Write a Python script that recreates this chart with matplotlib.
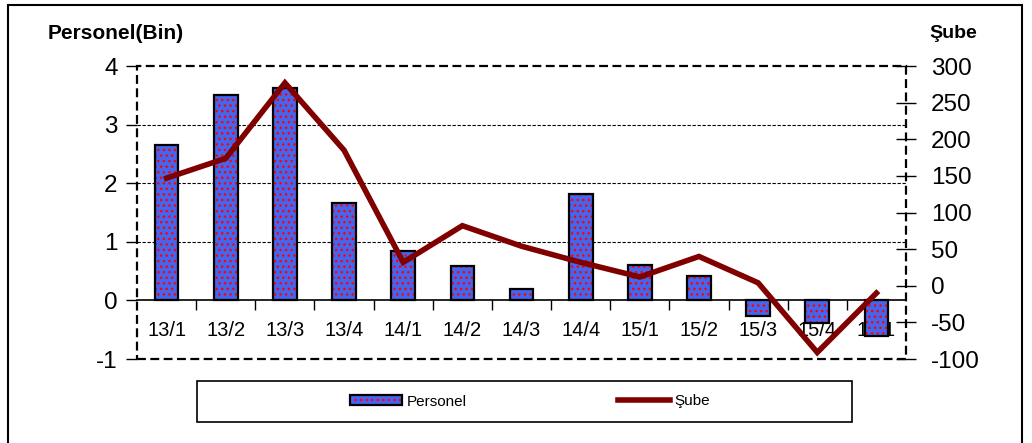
import numpy as np
import matplotlib.pyplot as plt
from matplotlib.patches import Rectangle
from matplotlib.lines import Line2D
from matplotlib.patches import Patch

plt.rcParams["font.family"] = ["Liberation Sans", "DejaVu Sans"]
plt.rcParams["axes.unicode_minus"] = False
plt.rcParams["hatch.linewidth"] = 1.0

#
# --- Data
#
categories = ["13/1", "13/2", "13/3", "13/4", "14/1", "14/2", "14/3",
              "14/4", "15/1", "15/2", "15/3", "15/4", "16/1"]
personel = [2.66, 3.50, 3.63, 1.66, 0.85, 0.58, 0.20,
            1.81, 0.60, 0.41, -0.27, -0.39, -0.60]
sube = [147, 174, 277, 185, 32, 82, 54, 32, 12, 40, 4, -91, -10]

BAR_BLUE = "#4466ee"
LINE_RED = "#800000"

fig = plt.figure(figsize=(10.32, 4.43), dpi=100)
ax = fig.add_axes([0.1328, 0.1896, 0.8779 - 0.1328, 0.851 - 0.1896])
x = np.arange(len(categories))

#
# --- Bars: blue with red dots, black outline
#
ax.bar(x, personel, width=0.4, color=BAR_BLUE, edgecolor="red", hatch="...",
       linewidth=0, zorder=2)
ax.bar(x, personel, width=0.4, fill=False, edgecolor="black", linewidth=1.6,
       zorder=3)

ax.set_xlim(-0.5, len(categories) - 0.5)
ax.set_ylim(-1, 4)
ax.set_yticks([-1, 0, 1, 2, 3, 4])
ax.tick_params(axis="y", direction="out", length=8, width=1, labelsize=17.5,
               pad=6)

# category axis sits on zero
ax.spines["bottom"].set_position(("data", 0))
ax.spines["bottom"].set_linewidth(1.2)
ax.set_xticks(x)
ax.set_xticklabels(categories)
ax.set_xticks(np.arange(0.5, len(categories) - 0.5, 1.0), minor=True)
ax.tick_params(axis="x", which="major", length=0, labelsize=14.5, pad=15)
ax.tick_params(axis="x", which="minor", direction="out", length=7, width=1)

for side in ["left", "top", "right"]:
    ax.spines[side].set_visible(False)
ax.add_patch(Rectangle((0, 0), 1, 1, transform=ax.transAxes, fill=False,
                       linestyle=(0, (4, 2)), linewidth=1.6, edgecolor="black",
                       clip_on=False, zorder=1))

for yv in [1, 2, 3]:
    ax.axhline(yv, color="black", linewidth=0.8, linestyle=(0, (3, 1.5)),
               zorder=1)

#
# --- Line on right axis
#
ax2 = ax.twinx()
ax2.plot(x, sube, color=LINE_RED, linewidth=4, solid_joinstyle="miter",
         zorder=4)
ax2.set_ylim(-100, 300)
ax2.set_yticks(np.arange(-100, 301, 50))
ax2.tick_params(axis="y", direction="inout", length=14, width=1,
                labelsize=17.5, pad=11)
for side in ["left", "top", "right", "bottom"]:
    ax2.spines[side].set_visible(False)

#
# --- Axis titles
#
fig.text(0.112, 0.925, "Personel(Bin)", fontsize=15, fontweight="bold",
         ha="center", va="center")
fig.text(0.924, 0.925, "Şube", fontsize=14, fontweight="bold",
         ha="center", va="center")

#
# --- Legend in its own box
#
fig.add_artist(Rectangle((197 / 1032, 1 - 422 / 443), 655 / 1032, 41 / 443,
                         transform=fig.transFigure, fill=False,
                         edgecolor="black", linewidth=1.2))
bar_handle = (Patch(facecolor=BAR_BLUE, edgecolor="red", linewidth=0,
                    hatch="..."),
              Patch(fill=False, edgecolor="black", linewidth=1.6))
handles = [bar_handle, Line2D([0], [0], color=LINE_RED, linewidth=4)]
fig.legend(handles, ["Personel", "Şube"], ncol=2, frameon=False,
           loc="center", bbox_to_anchor=(530 / 1032, 1 - 401.5 / 443),
           fontsize=11, handlelength=3.4, handleheight=0.6,
           handletextpad=0.3, columnspacing=9.9)

# outer frame
fig.add_artist(Rectangle((8 / 1032, -0.01), 1014 / 1032, 1 - 5 / 443 + 0.01,
                         transform=fig.transFigure, fill=False,
                         edgecolor="black", linewidth=1.5))

fig.savefig("out.png", dpi=100)
